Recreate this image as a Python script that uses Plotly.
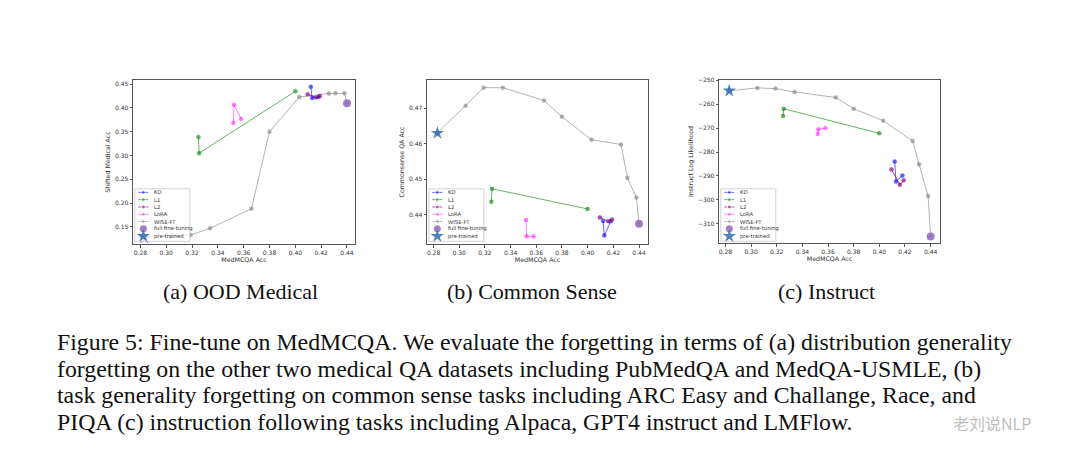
import plotly.graph_objects as go

# ---------------- data ----------------
wise_x = [0.283, 0.305, 0.319, 0.334, 0.366, 0.380, 0.403, 0.426, 0.431, 0.438, 0.440]
wise_ood = [0.127, 0.130, 0.133, 0.147, 0.188, 0.350, 0.423, 0.4305, 0.431, 0.431, 0.410]
wise_cs = [0.4630, 0.4707, 0.4758, 0.4758, 0.4722, 0.4676, 0.4611, 0.4598, 0.4503, 0.4448, 0.4374]
wise_ins = [-254.4, -253.2, -253.5, -254.9, -257.2, -261.9, -266.9, -275.4, -285.1, -298.4, -315.3]

kd_x = [0.412, 0.413, 0.418]
kd_ood = [0.4445, 0.421, 0.423]
kd_cs = [0.4382, 0.4341, 0.4381]
kd_ins = [-284.0, -292.3, -289.8]

l1_x = [0.325, 0.3255, 0.400]
l1_ood = [0.339, 0.305, 0.435]
l1_cs = [0.4436, 0.4473, 0.4416]
l1_ins = [-264.9, -261.9, -272.2]

l2_x = [0.4095, 0.416, 0.419]
l2_ood = [0.429, 0.422, 0.425]
l2_cs = [0.4392, 0.4381, 0.4386]
l2_ins = [-287.3, -293.7, -291.8]

lora_x = [0.352, 0.3525, 0.358]
lora_ood = [0.3686, 0.4068, 0.377]
lora_cs = [0.4385, 0.4339, 0.4338]
lora_ins = [-272.5, -270.5, -270.0]

full_x = [0.440]
full_ood = [0.410]
full_cs = [0.4374]
full_ins = [-315.3]

pre_x = [0.283]
pre_ood = [0.127]
pre_cs = [0.4630]
pre_ins = [-254.4]

x_ticks = [0.28, 0.30, 0.32, 0.34, 0.36, 0.38, 0.40, 0.42, 0.44]
y_ticks_ood = [0.15, 0.20, 0.25, 0.30, 0.35, 0.40, 0.45]
y_ticks_cs = [0.44, 0.45, 0.46, 0.47]
y_ticks_ins = [-310, -300, -290, -280, -270, -260, -250]

y_titles = ["Shifted Medical Acc", "Commonsense QA Acc", "Instruct Log Likelihood"]
x_title = "MedMCQA Acc"
subcaptions = ["(a) OOD Medical", "(b) Common Sense", "(c) Instruct"]
caption_lines = [
    "Figure 5: Fine-tune on MedMCQA. We evaluate the forgetting in terms of (a) distribution generality",
    "forgetting on the other two medical QA datasets including PubMedQA and MedQA-USMLE, (b)",
    "task generality forgetting on common sense tasks including ARC Easy and Challange, Race, and",
    "PIQA (c) instruction following tasks including Alpaca, GPT4 instruct and LMFlow.",
]
legend_names = ["KD", "L1", "L2", "LoRA", "WISE-FT", "full fine-tuning", "pre-trained"]

# ---------------- styles ----------------
C_KD = "rgba(0,0,255,0.6)"
C_L1 = "rgba(0,128,0,0.6)"
C_L2 = "rgba(128,0,128,0.65)"
C_LORA = "rgba(255,0,255,0.5)"
C_WISE = "rgba(128,128,128,0.6)"
C_FULL = "rgba(148,103,189,0.85)"
C_PRE = "rgba(40,100,170,0.8)"

OFF = 8          # browser default body margin
W = 1064
H = 445
TICKFONT = dict(family="DejaVu Sans", size=6, color="#333")
SERIF = "Liberation Serif"


def fx(px):
    return (px - OFF) / W


def fy(py):
    return 1 - (py - OFF) / H


panels = [
    dict(data=[(kd_x, kd_ood), (l1_x, l1_ood), (l2_x, l2_ood), (lora_x, lora_ood),
               (wise_x, wise_ood), (full_x, full_ood), (pre_x, pre_ood)],
         px=(133, 355), py=(77, 243), xr=[0.2743, 0.4462], yr=[0.113, 0.4598],
         ytick=y_ticks_ood, yfmt=".2f", cap_x=240),
    dict(data=[(kd_x, kd_cs), (l1_x, l1_cs), (l2_x, l2_cs), (lora_x, lora_cs),
               (wise_x, wise_cs), (full_x, full_cs), (pre_x, pre_cs)],
         px=(427, 648), py=(77, 243), xr=[0.2749, 0.447], yr=[0.4316, 0.4781],
         ytick=y_ticks_cs, yfmt=".2f", cap_x=532),
    dict(data=[(kd_x, kd_ins), (l1_x, l1_ins), (l2_x, l2_ins), (lora_x, lora_ins),
               (wise_x, wise_ins), (full_x, full_ins), (pre_x, pre_ins)],
         px=(719, 940), py=(77, 242), xr=[0.275, 0.4473], yr=[-318.2, -249.7],
         ytick=y_ticks_ins, yfmt="d", cap_x=826),
]

line_colors = [C_KD, C_L1, C_L2, C_LORA, C_WISE]

fig = go.Figure()
layout = dict(width=W, height=H, margin=dict(l=0, r=0, t=0, b=0),
              paper_bgcolor="white", plot_bgcolor="rgba(0,0,0,0)", showlegend=False)
annotations = []

for i, p in enumerate(panels):
    n = "" if i == 0 else str(i + 1)
    xa, ya = "x" + n, "y" + n
    order = [4, 0, 1, 2, 3]
    for k in order:
        xs, ys = p["data"][k]
        fig.add_trace(go.Scatter(x=xs, y=ys, mode="lines+markers", xaxis=xa, yaxis=ya,
                                 line=dict(color=line_colors[k], width=1),
                                 marker=dict(color=line_colors[k], size=4.5),
                                 cliponaxis=False, name=legend_names[k]))
    xs, ys = p["data"][5]
    fig.add_trace(go.Scatter(x=xs, y=ys, mode="markers", xaxis=xa, yaxis=ya,
                             marker=dict(color=C_FULL, size=8), cliponaxis=False,
                             name=legend_names[5]))
    xs, ys = p["data"][6]
    fig.add_trace(go.Scatter(x=xs, y=ys, mode="markers", xaxis=xa, yaxis=ya,
                             marker=dict(color=C_PRE, size=10, symbol="star"), cliponaxis=False,
                             name=legend_names[6]))
    axcommon = dict(showline=True, mirror=True, linecolor="#555", linewidth=0.8,
                    ticks="outside", ticklen=2.5, tickwidth=0.7, tickcolor="#555",
                    showgrid=False, zeroline=False, tickfont=TICKFONT)
    layout["xaxis" + n] = dict(axcommon, domain=[fx(p["px"][0]), fx(p["px"][1])],
                               range=p["xr"], anchor=ya, tickvals=x_ticks, tickformat=".2f",
                               title=dict(text=x_title, font=dict(family="DejaVu Sans", size=6.3, color="#333"),
                                          standoff=0))
    layout["yaxis" + n] = dict(axcommon, domain=[fy(p["py"][1]), fy(p["py"][0])],
                               range=p["yr"], anchor=xa, tickvals=p["ytick"], tickformat=p["yfmt"],
                               title=dict(text=y_titles[i], font=dict(family="DejaVu Sans", size=6.3, color="#333"),
                                          standoff=3))
    annotations.append(dict(text=subcaptions[i], xref="paper", yref="paper",
                            x=fx(p["cap_x"]), y=fy(290), showarrow=False,
                            xanchor="center", yanchor="middle",
                            font=dict(family=SERIF, size=22, color="#111")))

# ---------------- legends drawn in an overlay pixel-space axis ----------------
layout["xaxis4"] = dict(domain=[0, 1], range=[OFF, OFF + W], visible=False, fixedrange=True, anchor="y4")
layout["yaxis4"] = dict(domain=[0, 1], range=[OFF + H, OFF], visible=False, fixedrange=True, anchor="x4")
row_h = 7.35
for i, p in enumerate(panels):
    left = p["px"][0] + 1.8
    top = 187.0
    right = left + 55
    bottom = top + row_h * 7 + 1.5
    fig.add_trace(go.Scatter(x=[left, right, right, left, left], y=[top, top, bottom, bottom, top],
                             mode="lines", fill="toself", fillcolor="rgba(255,255,255,0.8)",
                             line=dict(color="rgba(200,200,200,1)", width=0.8),
                             xaxis="x4", yaxis="y4", hoverinfo="skip"))
    for r in range(7):
        yc = top + 3.6 + r * row_h
        if r < 5:
            fig.add_trace(go.Scatter(x=[left + 3.5, left + 8.5, left + 13.5], y=[yc, yc, yc],
                                     mode="lines+markers", xaxis="x4", yaxis="y4",
                                     line=dict(color=line_colors[r], width=1),
                                     marker=dict(color=line_colors[r], size=[0, 4, 0]),
                                     hoverinfo="skip"))
        elif r == 5:
            fig.add_trace(go.Scatter(x=[left + 8.5], y=[yc], mode="markers", xaxis="x4", yaxis="y4",
                                     marker=dict(color=C_FULL, size=7), hoverinfo="skip"))
        else:
            fig.add_trace(go.Scatter(x=[left + 8.5], y=[yc], mode="markers", xaxis="x4", yaxis="y4",
                                     marker=dict(color=C_PRE, size=10, symbol="star"), hoverinfo="skip"))
        annotations.append(dict(text=legend_names[r], xref="x4", yref="y4", x=left + 17.5, y=yc,
                                showarrow=False, xanchor="left", yanchor="middle",
                                font=dict(family="DejaVu Sans", size=5.3, color="#333")))

# ---------------- caption ----------------
cap_y = [341, 368, 395, 422]
for t, yy in zip(caption_lines, cap_y):
    annotations.append(dict(text=t, xref="paper", yref="paper", x=fx(54.5), y=fy(yy),
                            showarrow=False, xanchor="left", yanchor="middle",
                            font=dict(family=SERIF, size=23.8, color="#111")))

# watermark (nudged just below line 3 so it does not collide with the caption text)
annotations.append(dict(text="老刘说NLP", xref="paper", yref="paper", x=fx(992), y=fy(423),
                        showarrow=False, xanchor="center", yanchor="middle",
                        font=dict(family="Noto Sans CJK SC", size=16, color="rgba(160,160,160,0.7)")))

layout["annotations"] = annotations
fig.update_layout(**layout)
fig.write_html("out.html")
